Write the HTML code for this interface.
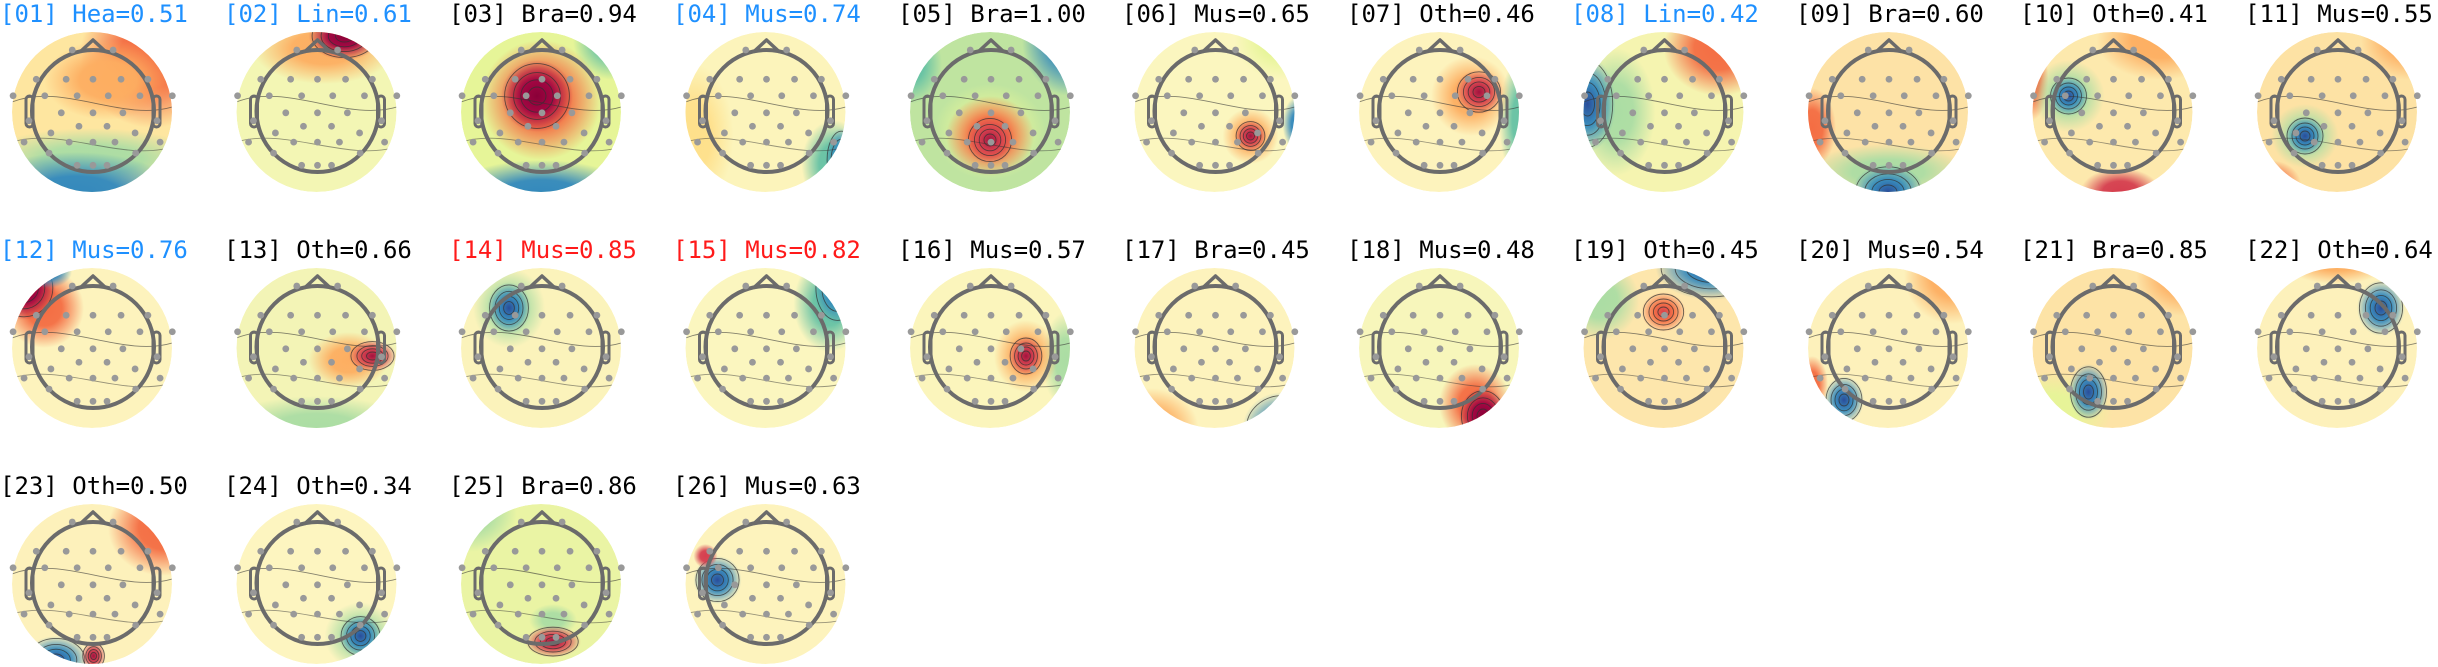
<!DOCTYPE html>
<html><head><meta charset="utf-8"><style>
html,body{margin:0;padding:0;background:#fff;}
body{width:2438px;height:667px;position:relative;overflow:hidden;font-family:"DejaVu Sans Mono","Liberation Mono",monospace;}
.t{position:absolute;font-size:24px;line-height:28px;white-space:nowrap;color:#000;}
.b{color:#1e90ff}.r{color:#ff1a1a}
svg{position:absolute;left:0;top:0}
</style></head><body>
<svg id="s" width="2438" height="667"></svg>
<div class="t b" style="left:0px;top:0px">[01] Hea=0.51</div>
<div class="t b" style="left:224px;top:0px">[02] Lin=0.61</div>
<div class="t" style="left:449px;top:0px">[03] Bra=0.94</div>
<div class="t b" style="left:673px;top:0px">[04] Mus=0.74</div>
<div class="t" style="left:898px;top:0px">[05] Bra=1.00</div>
<div class="t" style="left:1122px;top:0px">[06] Mus=0.65</div>
<div class="t" style="left:1347px;top:0px">[07] Oth=0.46</div>
<div class="t b" style="left:1571px;top:0px">[08] Lin=0.42</div>
<div class="t" style="left:1796px;top:0px">[09] Bra=0.60</div>
<div class="t" style="left:2020px;top:0px">[10] Oth=0.41</div>
<div class="t" style="left:2245px;top:0px">[11] Mus=0.55</div>
<div class="t b" style="left:0px;top:236px">[12] Mus=0.76</div>
<div class="t" style="left:224px;top:236px">[13] Oth=0.66</div>
<div class="t r" style="left:449px;top:236px">[14] Mus=0.85</div>
<div class="t r" style="left:673px;top:236px">[15] Mus=0.82</div>
<div class="t" style="left:898px;top:236px">[16] Mus=0.57</div>
<div class="t" style="left:1122px;top:236px">[17] Bra=0.45</div>
<div class="t" style="left:1347px;top:236px">[18] Mus=0.48</div>
<div class="t" style="left:1571px;top:236px">[19] Oth=0.45</div>
<div class="t" style="left:1796px;top:236px">[20] Mus=0.54</div>
<div class="t" style="left:2020px;top:236px">[21] Bra=0.85</div>
<div class="t" style="left:2245px;top:236px">[22] Oth=0.64</div>
<div class="t" style="left:0px;top:472px">[23] Oth=0.50</div>
<div class="t" style="left:224px;top:472px">[24] Oth=0.34</div>
<div class="t" style="left:449px;top:472px">[25] Bra=0.86</div>
<div class="t" style="left:673px;top:472px">[26] Mus=0.63</div>
<script>
var R='#9e0142',RD='#d53e4f',O='#f46d43',LO='#fdae61',Y='#fee08b',G='#e6f598',LG='#abdda4',GG='#66c2a5',B='#3288bd',P='#5e4fa2';
var maps=[
['#fee6a0',[[0.75,-0.7,0.9,0.9,O,0],[0.2,-0.4,0.8,0.5,LO,0],[0,0.6,1.4,0.4,LG,0],[-0.2,1.05,1.3,0.55,B,0]]],
['#f3f6b4',[[0.1,-0.8,0.9,0.45,LO,0],[0.35,-0.95,0.45,0.3,R,1]]],
['#e6f598',[[0.9,-0.9,0.5,0.5,GG,0],[0,1.05,1.2,0.45,B,0],[0,-0.15,0.75,0.75,O,0],[-0.05,-0.2,0.45,0.45,R,1]]],
['#fcf4bb',[[-0.9,0.3,0.5,0.9,Y,0],[0.85,0.65,0.4,0.55,GG,0],[0.95,0.6,0.2,0.4,B,1]]],
['#bfe4a0',[[1.0,-0.9,0.6,0.7,B,0],[-1.0,-0.6,0.4,0.5,GG,0],[0,0.25,0.7,0.6,G,0],[0,0.3,0.55,0.5,O,0],[0,0.35,0.3,0.3,RD,1]]],
['#fbf6bf',[[0.85,-0.9,0.6,0.5,G,0],[1.05,0.15,0.2,0.35,B,0],[0.45,0.3,0.35,0.35,LO,0],[0.45,0.3,0.2,0.2,RD,1]]],
['#fdf3bd',[[1.05,0.1,0.3,0.8,GG,0],[0.4,-0.2,0.5,0.5,LO,0],[0.5,-0.25,0.3,0.28,RD,1]]],
['#f5f4b0',[[-0.6,0,0.5,0.8,LG,0],[-0.95,-0.1,0.35,0.6,B,1],[0.7,-0.8,0.7,0.6,O,0]]],
['#fde2a6',[[0,0.75,1.0,0.35,LG,0],[0.0,1.0,0.45,0.35,B,1],[-0.95,0.2,0.3,0.5,O,0]]],
['#fde9ad',[[0.6,-0.9,0.8,0.5,LO,0],[0.1,1.0,0.5,0.3,RD,0],[-1.0,-0.4,0.2,0.5,O,0],[-0.55,-0.2,0.45,0.45,LG,0],[-0.55,-0.2,0.25,0.25,B,1]]],
['#fde2a4',[[0.9,-0.9,0.6,0.5,LO,0],[-0.85,0.9,0.4,0.3,O,0],[-0.4,0.3,0.42,0.4,LG,0],[-0.4,0.3,0.25,0.25,B,1]]],
['#fdf3bd',[[-0.6,-0.5,0.5,0.5,O,0],[-0.85,-0.75,0.4,0.4,R,1],[-0.55,-0.95,0.3,0.2,B,0]]],
['#f3f4b6',[[0,1.0,1.2,0.4,LG,0],[0.4,0.15,0.5,0.35,LO,0],[0.7,0.1,0.3,0.2,RD,1]]],
['#fbf3bb',[[-0.4,-0.5,0.45,0.5,LG,0],[-0.4,-0.5,0.27,0.32,B,1]]],
['#fbf6bf',[[0.8,-0.55,0.45,0.6,GG,0],[0.9,-0.75,0.3,0.45,B,1]]],
['#fbf5bc',[[0.95,0.15,0.3,0.6,LG,0],[0.45,0.1,0.4,0.45,LO,0],[0.45,0.1,0.22,0.25,RD,1]]],
['#fdf3bd',[[-0.8,1.0,0.6,0.5,LO,0],[0.85,1.0,0.5,0.45,B,1]]],
['#f7f6bb',[[0.45,0.7,0.45,0.5,O,0],[0.55,0.85,0.3,0.35,R,1]]],
['#fde6ac',[[-0.8,-0.6,0.5,0.5,LG,0],[0.6,-1.0,0.7,0.4,B,1],[0,-0.45,0.28,0.25,O,1]]],
['#fdf1bb',[[0.8,-0.9,0.6,0.6,LO,0],[-0.95,0.45,0.2,0.35,O,0],[-0.55,0.65,0.25,0.3,B,1]]],
['#fde3a6',[[0.9,-0.9,0.6,0.5,LO,0],[-0.8,0.8,0.8,0.5,G,0],[-0.3,0.55,0.25,0.35,B,1]]],
['#fdf1bb',[[0,-1.1,0.7,0.3,LO,0],[0.55,-0.5,0.3,0.35,B,1]]],
['#fdf1bb',[[0.9,-0.7,0.7,0.6,O,0],[-0.45,0.95,0.4,0.3,B,1],[0.02,0.9,0.15,0.18,RD,1]]],
['#fdf5c0',[[0.55,0.65,0.45,0.42,LG,0],[0.55,0.65,0.27,0.27,B,1]]],
['#eaf4a4',[[-0.9,-0.9,0.6,0.5,LG,0],[0.15,0.45,0.3,0.2,LG,0],[0.15,0.72,0.35,0.2,RD,1]]],
['#fdf3bd',[[-0.6,-0.05,0.3,0.3,B,1],[-0.75,-0.35,0.15,0.15,RD,0]]]
];
var dark={};dark[B]='#2a4d9a';dark[RD]='#a3123f';dark[R]='#8a0038';dark[O]='#d8404a';
var dots=[[-0.34,-1],[0.33,-1],[-0.93,-0.52],[-0.44,-0.52],[0,-0.52],[0.46,-0.52],[0.9,-0.52],
[-1.31,-0.25],[-0.79,-0.25],[-0.26,-0.25],[0.25,-0.25],[0.77,-0.25],[1.3,-0.25],
[-0.52,0.03],[0,0.03],[0.49,0.03],[-1.05,0.16],[1.05,0.16],[-0.23,0.25],[0.23,0.25],[-0.69,0.36],[0.69,0.36],
[-1.13,0.51],[-0.39,0.51],[0,0.51],[0.36,0.51],[1.1,0.51],[-0.72,0.69],[0.7,0.69],[-0.26,0.89],[0,0.89],[0.23,0.89]];
var h='<defs>';var body='';
maps.forEach(function(m,i){
 var c=i%11,r=Math.floor(i/11),cx=c*224.5+92,cy=r*236+112,ox=80,oy=80,hr=61;
 h+='<clipPath id="c'+i+'"><circle cx="'+cx+'" cy="'+cy+'" r="80"/></clipPath>';
 body+='<g clip-path="url(#c'+i+')"><circle cx="'+cx+'" cy="'+cy+'" r="80" fill="'+m[0]+'"/>';
 m[1].forEach(function(b,j){
  var id='g'+i+'_'+j;
  var inner=b[5]&&dark[b[4]]?dark[b[4]]:b[4];
  h+='<radialGradient id="'+id+'"><stop offset="0" stop-color="'+inner+'" stop-opacity="1"/><stop offset="0.45" stop-color="'+b[4]+'" stop-opacity="0.95"/><stop offset="1" stop-color="'+b[4]+'" stop-opacity="0"/></radialGradient>';
  var bx=cx+b[0]*ox,by=cy+b[1]*oy,rx=b[2]*ox,ry=b[3]*oy;
  body+='<ellipse cx="'+bx+'" cy="'+by+'" rx="'+rx+'" ry="'+ry+'" fill="url(#'+id+')"/>';
  if(b[5]){[0.25,0.45,0.65,0.9].forEach(function(k){body+='<ellipse cx="'+bx+'" cy="'+by+'" rx="'+(rx*k)+'" ry="'+(ry*k)+'" fill="none" stroke="#333" stroke-width="0.9" opacity="0.75"/>';});}
 });
 body+='<path d="M'+(cx-ox)+' '+(cy-10)+' C'+(cx-30)+' '+(cy-30)+' '+(cx+30)+' '+(cy+10)+' '+(cx+ox)+' '+(cy-5)+'" fill="none" stroke="#333" stroke-width="0.9" opacity="0.6"/>';
 body+='<path d="M'+(cx-ox)+' '+(cy+30)+' C'+(cx-30)+' '+(cy+15)+' '+(cx+30)+' '+(cy+50)+' '+(cx+ox)+' '+(cy+35)+'" fill="none" stroke="#333" stroke-width="0.9" opacity="0.5"/>';
 body+='</g>';
 var s='#6b6b6b',hy=cy-1;
 body+='<circle cx="'+(cx+1)+'" cy="'+hy+'" r="'+hr+'" fill="none" stroke="'+s+'" stroke-width="4"/>';
 body+='<path d="M'+(cx-12)+' '+(hy-59)+' L'+(cx+1)+' '+(hy-71)+' L'+(cx+14)+' '+(hy-59)+'" fill="none" stroke="'+s+'" stroke-width="3.5" stroke-linejoin="round"/>';
 body+='<rect x="'+(cx-hr-5)+'" y="'+(hy-15)+'" width="7" height="31" rx="3.5" fill="none" stroke="'+s+'" stroke-width="3"/>';
 body+='<rect x="'+(cx+hr)+'" y="'+(hy-15)+'" width="7" height="31" rx="3.5" fill="none" stroke="'+s+'" stroke-width="3"/>';
 dots.forEach(function(d){body+='<circle cx="'+(cx+1+d[0]*hr)+'" cy="'+(hy+d[1]*hr)+'" r="3.4" fill="#999"/>';});
});
document.getElementById('s').innerHTML=h+'</defs>'+body;
</script>
</body></html>
